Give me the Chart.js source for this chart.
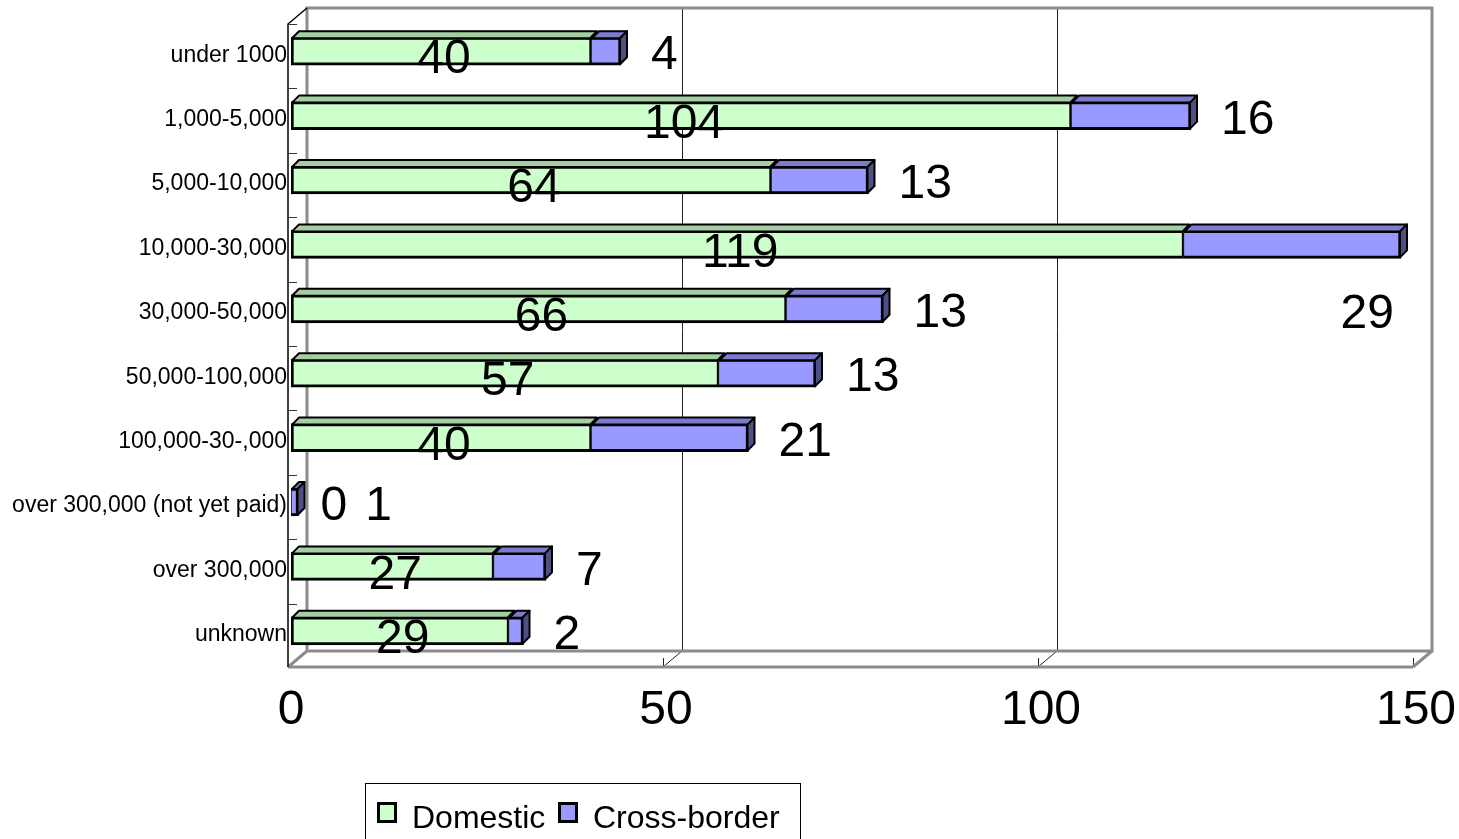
<!DOCTYPE html>
<html>
<head>
<meta charset="utf-8">
<script src="https://cdn.jsdelivr.net/npm/chart.js@4.4.1/dist/chart.umd.min.js"></script>
<style>
  html, body { margin: 0; padding: 0; background: #fff; }
  #wrap { position: relative; width: 1459px; height: 839px; overflow: hidden; font-family: "Liberation Sans", Arial, sans-serif; }
  #chart { position: absolute; left: 0; top: 0; }
  .legend { position: absolute; left: 365px; top: 783px; width: 436px; height: 80px; border: 1px solid #000; box-sizing: border-box; }
  .swatch { position: absolute; top: 802px; width: 20px; height: 21px; border: 3px solid #000; box-sizing: border-box; }
  .ltext { position: absolute; top: 801px; font-size: 32px; line-height: 32px; color: #000; white-space: nowrap; }
</style>
</head>
<body>
<div id="wrap">
  <canvas id="chart" width="1459" height="839"></canvas>
  <div class="legend"></div>
  <div class="swatch" style="left:377px;background:#ccffcc"></div>
  <div class="ltext" style="left:412px">Domestic</div>
  <div class="swatch" style="left:558px;background:#9999ff"></div>
  <div class="ltext" style="left:593px">Cross-border</div>
</div>
<script>
const categories = ['under 1000', '1,000-5,000', '5,000-10,000', '10,000-30,000', '30,000-50,000',
  '50,000-100,000', '100,000-30-,000', 'over 300,000 (not yet paid)', 'over 300,000', 'unknown'];
const domestic = [40, 104, 64, 119, 66, 57, 40, 0, 27, 29];
const crossBorder = [4, 16, 13, 29, 13, 13, 21, 1, 7, 2];
const xTicks = [0, 50, 100, 150];

const FONT = '"Liberation Sans", Arial, sans-serif';
const DEPTH = 7;          // bar extrusion
const WALL = { dx: 19, dy: -16 }; // back wall offset

const faceColors = [
  { top: '#a3cfa3', side: '#7fa37f' },
  { top: '#7b7bcf', side: '#4f4f85' },
];

// back wall, floor and left wall of the 3D box
const framePlugin = {
  id: 'frame',
  beforeDatasetsDraw(chart) {
    const { ctx, chartArea: a, scales } = chart;
    const xs = scales.x;
    const fl = a.left - 3, fb = a.bottom + 4, ft = a.top + 5;
    const fr = xs.getPixelForValue(xTicks[xTicks.length - 1]) - 3;
    const bl = fl + WALL.dx, bb = fb + WALL.dy, bt = ft + WALL.dy, br = fr + WALL.dx;
    ctx.save();
    // gridlines on back wall and floor
    ctx.strokeStyle = '#222';
    ctx.lineWidth = 1;
    xTicks.forEach((v) => {
      const px = xs.getPixelForValue(v) - 3;
      ctx.beginPath();
      if (v > 0 && v < xTicks[xTicks.length - 1]) {
        ctx.moveTo(px + WALL.dx + 0.5, bt);
        ctx.lineTo(px + WALL.dx + 0.5, bb);
        ctx.moveTo(px, fb);
        ctx.lineTo(px + WALL.dx, bb);
      }
      if (v > 0) {
        ctx.moveTo(px + 0.5, fb - 9);
        ctx.lineTo(px + 0.5, fb);
      }
      ctx.stroke();
    });
    // grey box edges
    ctx.strokeStyle = '#8c8c8c';
    ctx.lineWidth = 3;
    ctx.beginPath();
    ctx.moveTo(bl, bb); ctx.lineTo(bl, bt); ctx.lineTo(br, bt); ctx.lineTo(br, bb); ctx.lineTo(bl, bb);
    ctx.moveTo(fl, fb); ctx.lineTo(fr, fb);
    ctx.moveTo(fl, fb); ctx.lineTo(bl, bb);
    ctx.moveTo(fr, fb); ctx.lineTo(br, bb);
    ctx.stroke();
    // left front edge and category ticks
    ctx.strokeStyle = '#000';
    ctx.lineWidth = 1.5;
    ctx.beginPath();
    ctx.moveTo(fl, fb); ctx.lineTo(fl, ft); ctx.lineTo(bl, bt);
    ctx.stroke();
    ctx.lineWidth = 1;
    ctx.strokeStyle = '#333';
    const band = (a.bottom - a.top) / categories.length;
    ctx.beginPath();
    for (let i = 0; i < categories.length; i++) {
      const y = Math.round(ft + i * band) + 0.5;
      ctx.moveTo(fl, y); ctx.lineTo(fl + 9, y);
    }
    ctx.stroke();
    ctx.restore();
  },
};

// top and side faces of the bars, then the value labels
const bars3dPlugin = {
  id: 'bars3d',
  afterDatasetsDraw(chart) {
    const { ctx } = chart;
    ctx.save();
    ctx.strokeStyle = '#000';
    ctx.lineWidth = 2;
    ctx.lineJoin = 'round';
    const lastSeg = [];
    chart.data.datasets.forEach((ds, di) => {
      const meta = chart.getDatasetMeta(di);
      meta.data.forEach((bar, i) => {
        if (!ds.data[i]) return;
        const { x, y, base, height } = bar.getProps(['x', 'y', 'base', 'height'], true);
        const top = y - height / 2 + 1;
        const x0 = Math.min(x, base), x1 = Math.max(x, base);
        ctx.fillStyle = faceColors[di].top;
        ctx.beginPath();
        ctx.moveTo(x0 + 1, top);
        ctx.lineTo(x0 + 1 + DEPTH, top - DEPTH);
        ctx.lineTo(x1 - 1 + DEPTH, top - DEPTH);
        ctx.lineTo(x1 - 1, top);
        ctx.closePath();
        ctx.fill();
        ctx.stroke();
        lastSeg[i] = { di, x1, top, bottom: y + height / 2 - 1 };
      });
    });
    lastSeg.forEach((s) => {
      if (!s) return;
      ctx.fillStyle = faceColors[s.di].side;
      ctx.beginPath();
      ctx.moveTo(s.x1 - 1, s.top);
      ctx.lineTo(s.x1 - 1 + DEPTH, s.top - DEPTH);
      ctx.lineTo(s.x1 - 1 + DEPTH, s.bottom - DEPTH);
      ctx.lineTo(s.x1 - 1, s.bottom);
      ctx.closePath();
      ctx.fill();
      ctx.stroke();
    });
    ctx.restore();
  },
  afterDraw(chart) {
    const { ctx, chartArea: a } = chart;
    const dMeta = chart.getDatasetMeta(0);
    const cMeta = chart.getDatasetMeta(1);
    ctx.save();
    ctx.font = '48px ' + FONT;
    ctx.fillStyle = '#000';
    ctx.textBaseline = 'middle';
    categories.forEach((c, i) => {
      const d = dMeta.data[i].getProps(['x', 'y', 'base'], true);
      const cb = cMeta.data[i].getProps(['x', 'y', 'base'], true);
      const ly = d.y + 5;
      let cx = cb.x + 30;
      if (domestic[i] > 0) {
        ctx.textAlign = 'center';
        ctx.fillText(String(domestic[i]), (d.x + d.base) / 2 + 3, ly + 4);
      } else {
        ctx.textAlign = 'left';
        const t = String(domestic[i]);
        ctx.fillText(t, cb.x + 22, ly);
        cx = cb.x + 22 + ctx.measureText(t).width + 18;
      }
      const ct = String(crossBorder[i]);
      const w = ctx.measureText(ct).width;
      if (cx + w > a.right + WALL.dx) {
        ctx.textAlign = 'right';
        ctx.fillText(ct, a.right - 22, ly + 65);
      } else {
        ctx.textAlign = 'left';
        ctx.fillText(ct, cx, ly);
      }
    });
    ctx.restore();
  },
};

function buildChart() {
  const ctx = document.getElementById('chart');
  return new Chart(ctx, {
    type: 'bar',
    data: {
      labels: categories,
      datasets: [{
        label: 'Domestic',
        data: domestic,
        backgroundColor: '#ccffcc',
        borderColor: '#000',
        borderWidth: { top: 3, bottom: 3, left: 3, right: 2 },
        borderSkipped: false,
        barThickness: 28,
      }, {
        label: 'Cross-border',
        data: crossBorder,
        backgroundColor: '#9999ff',
        borderColor: '#000',
        borderWidth: { top: 3, bottom: 3, left: 1, right: 3 },
        borderSkipped: false,
        barThickness: 28,
      }],
    },
    options: {
      indexAxis: 'y',
      responsive: false,
      animation: false,
      devicePixelRatio: 1,
      layout: { padding: { top: 19, right: 43, bottom: 0, left: 0 } },
      plugins: {
        legend: { display: false },
        tooltip: { enabled: false },
      },
      scales: {
        x: {
          type: 'linear',
          stacked: true,
          min: 0,
          max: 150,
          afterBuildTicks(scale) { scale.ticks = xTicks.map((v) => ({ value: v })); },
          afterFit(scale) {
            scale.height = 176;
            scale.paddingLeft = 0;
            scale.paddingRight = 0;
          },
          grid: { display: false },
          border: { display: false },
          ticks: { color: '#000', padding: 11, font: { family: FONT, size: 48 } },
        },
        y: {
          stacked: true,
          afterFit(scale) {
            scale.width = 291;
            scale.paddingTop = 0;
            scale.paddingBottom = 0;
          },
          grid: { display: false },
          border: { display: false },
          ticks: { color: '#000', padding: -4, labelOffset: 4, autoSkip: false, font: { family: FONT, size: 23 } },
        },
      },
    },
    plugins: [framePlugin, bars3dPlugin],
  });
}

document.addEventListener('DOMContentLoaded', buildChart);
</script>
</body>
</html>
